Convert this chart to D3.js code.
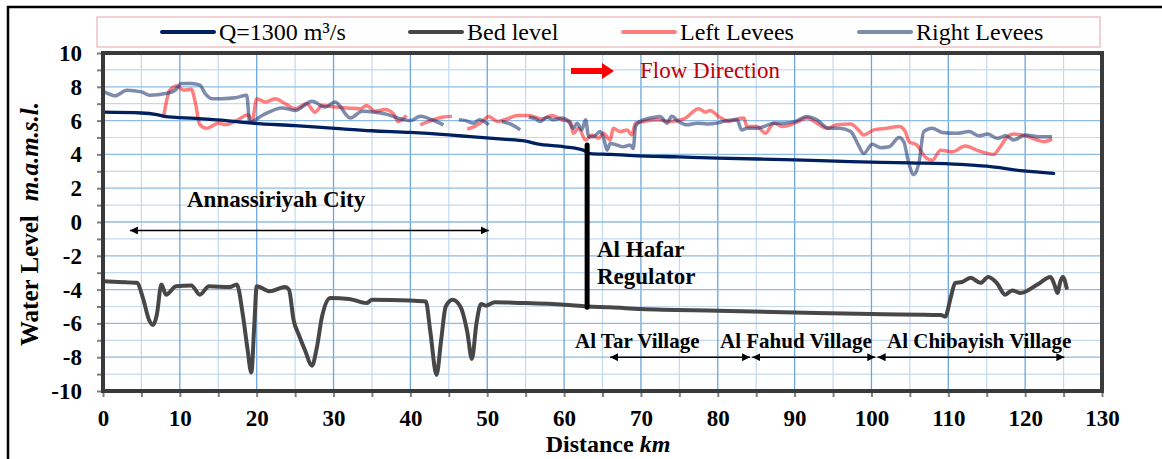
<!DOCTYPE html>
<html>
<head>
<meta charset="utf-8">
<script src="https://cdn.jsdelivr.net/npm/d3@7"></script>
<style>
  body { margin: 0; background: #fff; }
  svg { display: block; font-family: "Liberation Serif", "Times New Roman", serif; }
</style>
</head>
<body>
<div id="chart"></div>
<script>
// series names
const seriesNames = ['Q=1300 m³/s', 'Bed level', 'Left Levees', 'Right Levees']

// water surface for Q=1300
const waterKm = [0, 5, 7, 8, 12, 16, 19.4, 25, 30.2, 35, 40, 45, 47.8, 52, 55, 56.5, 60, 62.5, 63.4, 66, 69, 75, 80, 90, 97.3, 105, 111.6, 115, 119.8, 123.7]
const waterLevel = [6.5, 6.45, 6.35, 6.25, 6.13, 6.0, 5.85, 5.7, 5.54, 5.4, 5.3, 5.15, 5.05, 4.9, 4.78, 4.62, 4.45, 4.25, 4.05, 4.0, 3.93, 3.85, 3.78, 3.68, 3.57, 3.5, 3.41, 3.3, 3.02, 2.88]

// bed level
const bedKm = [0, 2, 4.4, 5.2, 6.0, 6.5, 7.0, 7.6, 8.2, 9.5, 11.5, 12.6, 13.8, 16.5, 17.4, 18.2, 18.8, 19.3, 19.7, 20.0, 21.7, 23.7, 24.2, 24.8, 25.5, 26.3, 27.2, 27.8, 28.5, 29.6, 32, 34.3, 35, 40, 42, 42.6, 43.4, 44.0, 44.6, 45.5, 46.5, 47.4, 48.0, 48.6, 49.2, 49.8, 51, 55, 60, 63, 66, 70, 80, 90, 100, 109, 109.6, 110.3, 110.9, 111.8, 112.9, 114.2, 115.2, 116.3, 117.4, 118.3, 119.4, 121.6, 123.3, 123.8, 124.2, 124.6, 124.9, 125.4]
const bedLevel = [-3.5, -3.55, -3.6, -4.5, -5.8, -6.1, -5.5, -3.7, -4.3, -3.8, -3.75, -4.3, -3.8, -3.85, -3.7, -5.5, -7.5, -8.9, -6.0, -3.8, -4.1, -3.85, -4.0, -5.8, -6.7, -7.6, -8.5, -7.5, -5.6, -4.5, -4.55, -4.8, -4.6, -4.65, -4.7, -6.5, -9.05, -7.0, -5.0, -4.6, -5.0, -6.5, -8.1, -6.0, -4.85, -4.95, -4.75, -4.8, -4.9, -5.0, -5.05, -5.15, -5.25, -5.35, -5.45, -5.5, -5.6, -4.5, -3.6, -3.55, -3.3, -3.6, -3.25, -3.6, -4.3, -4.05, -4.2, -3.7, -3.25, -3.7, -4.2, -3.5, -3.25, -3.9]

// left levees (null = gap in survey)
const leftKm = [7.85, 8.7, 9.6, 10.5, 11.5, 12, 12.6, 13.5, 15, 15.9, 17.2, 18.9, 19.4, 20, 21.1, 22.4, 23.7, 25, 26.5, 27.6, 28.5, 30.2, 31.9, 33.5, 34.3, 35.4, 36.7, 37.8, 38.4, 39.5, null,
  41.3, 42.4, 44.1, 45.4, null,
  47.4, 47.8, 49.1, 50.2, 51.3, 52.6, 53.9, 55.4, 57.1, 58.4, 59.7, 60.8, 61.2, 61.9, 62.8, 63.6, 64.5, 65.1, 66, 66.4, 67.3, 68.2, 68.8, 69.3, 70.4, 72.1, 73.8, 75.6, 77.5, 78.4, 79, 80.1, 81.4, 82.5, 83.4, 83.8, 85.1, 86.2, 87.3, 88.4, 89.5, 90.5, 91.6, 92.9, 94.2, 95.5, 97.3, 98.3, 99, 100.3, 102, 103.6, 104.4, 104.9, 105.9, 107, 107.9, 109, 110.5, 112.2, 114, 115.9, 116.6, 117.7, 118.5, 120, 121.6, 122.4, 123.5]
const leftLevel = [6.15, 7.8, 8.05, 7.8, 7.85, 7.1, 5.75, 5.55, 5.85, 5.75, 5.95, 6.35, 5.95, 7.3, 7.1, 7.3, 7.0, 6.7, 7.0, 6.5, 6.9, 6.8, 6.75, 6.7, 6.9, 6.55, 6.65, 6.4, 5.95, 6.3, null,
  5.75, 5.95, 6.2, 6.25, null,
  5.5, 5.55, 5.85, 6.25, 5.95, 6.1, 6.3, 6.3, 6.1, 6.3, 6.05, 5.95, 5.25, 5.55, 4.85, 5.15, 4.95, 5.25, 4.85, 5.55, 5.35, 5.45, 5.15, 5.85, 5.95, 6.05, 5.95, 6.1, 6.7, 6.5, 6.6, 6.25, 5.95, 6.1, 6.15, 5.65, 5.65, 5.25, 5.85, 5.65, 5.75, 5.95, 6.15, 5.85, 5.55, 5.75, 5.8, 5.45, 5.15, 5.45, 5.55, 5.65, 5.35, 4.75, 4.55, 3.85, 3.65, 4.25, 4.15, 4.5, 4.2, 4.0, 4.35, 5.05, 5.2, 5.1, 4.85, 4.75, 4.9]

// right levees
const rightKm = [0, 1.6, 3.1, 5, 6.1, 8.1, 9.4, 10.2, 11.5, 12.6, 13.3, 14.2, 15.5, 17.2, 18.7, 19.1, 20.7, 23.3, 25, 27.2, 28.9, 30.2, 32.2, 33.7, 35.4, 37.1, 38.4, 40, 41.3, 42.8, 44.3, null,
  46.3, 47.2, 48.2, 49, 49.6, 50.2, null,
  51.9, 53, 54.3, null,
  55.4, 56.3, 56.9, 57.8, 58.6, 59.7, 60.6, 61.2, 61.7, 62.3, 62.8, 63.2, 63.8, 64.7, 65.1, 65.6, 66, 66.9, 67.7, 68.6, 69, 69.3, 69.9, 71.2, 72.5, 73.4, 74, 74.9, 76, 77.3, 78.6, 79.9, 81.2, 82.5, 83.1, 83.8, 85.1, 86, 87.3, 88.6, 90.1, 91.6, 92.9, 94.4, 95.9, 97.3, 98.3, 99, 100.1, 101.2, 102.3, 103.6, 104.2, 104.9, 105.5, 106.2, 106.8, 107.9, 109.2, 111.1, 112.7, 114, 115.1, 116.4, 117.5, 118.5, 120, 121.6, 123.5]
const rightLevel = [7.75, 7.47, 7.8, 7.7, 7.5, 7.6, 7.8, 8.2, 8.2, 8.1, 7.6, 7.3, 7.3, 7.35, 7.5, 5.9, 6.3, 6.75, 6.6, 7.15, 6.8, 7.1, 6.15, 6.55, 6.5, 6.35, 6.15, 6.0, 6.25, 6.05, 5.75, null,
  6.05, 6.0, 5.85, 6.05, 5.95, 5.75, null,
  5.95, 5.8, 5.45, null,
  6.2, 6.1, 5.95, 6.2, 6.05, 6.15, 5.95, 5.55, 5.85, 5.45, 6.05, 5.05, 5.05, 5.35, 5.05, 4.25, 4.65, 4.55, 4.45, 4.55, 4.35, 5.65, 5.95, 6.15, 6.25, 5.85, 6.25, 5.95, 5.75, 5.85, 5.8, 5.85, 6.0, 6.05, 5.45, 5.55, 5.55, 5.65, 5.85, 5.85, 5.95, 6.25, 6.05, 5.55, 5.55, 5.35, 4.55, 4.05, 4.6, 4.4, 4.45, 5.0, 4.75, 3.4, 2.8, 3.55, 5.35, 5.55, 5.3, 5.25, 5.35, 5.1, 5.2, 4.95, 5.1, 4.85, 5.15, 5.05, 5.05]

// annotations
const reaches = [
  {name: 'Al Tar Village', from: 66, to: 84.2},
  {name: 'Al Fahud Village', from: 84.5, to: 100.5},
  {name: 'Al Chibayish Village', from: 100.8, to: 125.1}
]
const cityReach = {name: 'Annassiriyah City', from: 3.5, to: 50.2}
const regulator = {km: 63, top: 4.55, bottom: -5.05}

const xTicks = d3.range(0, 131, 5)
const yTicks = d3.range(-10, 11, 1)

const W = 1162, H = 459
const svg = d3.select('#chart').append('svg').attr('width', W).attr('height', H)
svg.append('rect').attr('width', W).attr('height', H).attr('fill', '#fff')

// outer frame
svg.append('path').attr('d', `M8,${H} V7 H${W}`).attr('fill', 'none').attr('stroke', '#000').attr('stroke-width', 2.5)

const x = d3.scaleLinear().domain([0, 130]).range([103, 1102])
const y = d3.scaleLinear().domain([-10, 10]).range([391, 53])

const pairs = (xs, ys) => xs.map((k, i) => [k, ys[i]])

// grid
const grid = svg.append('g')
grid.selectAll('line.vmin').data(xTicks.filter(d => d % 10 !== 0)).enter().append('line')
  .attr('x1', d => x(d)).attr('x2', d => x(d)).attr('y1', y(10)).attr('y2', y(-10))
  .attr('stroke', '#c3d9ef').attr('stroke-width', 1.2)
grid.selectAll('line.hmin').data(yTicks.filter(d => d % 2 !== 0)).enter().append('line')
  .attr('y1', d => y(d)).attr('y2', d => y(d)).attr('x1', x(0)).attr('x2', x(130))
  .attr('stroke', '#c3d9ef').attr('stroke-width', 1.2)
grid.selectAll('line.vmaj').data(xTicks.filter(d => d % 10 === 0)).enter().append('line')
  .attr('x1', d => x(d)).attr('x2', d => x(d)).attr('y1', y(10)).attr('y2', y(-10))
  .attr('stroke', '#6ea6da').attr('stroke-width', 1.3)
grid.selectAll('line.hmaj').data(yTicks.filter(d => d % 2 === 0)).enter().append('line')
  .attr('y1', d => y(d)).attr('y2', d => y(d)).attr('x1', x(0)).attr('x2', x(130))
  .attr('stroke', '#8dbbe4').attr('stroke-width', 1.3)

// axes
const yAxis = d3.axisLeft(y).tickValues(yTicks).tickSize(6).tickPadding(15)
  .tickFormat(d => d % 2 === 0 ? String(d) : '')
const xAxis = d3.axisBottom(x).tickValues(xTicks).tickSize(6)
  .tickFormat(d => d % 10 === 0 ? String(d) : '')

const gy = svg.append('g').attr('transform', `translate(${x(0)},0)`).call(yAxis)
const gx = svg.append('g').attr('transform', `translate(0,${y(-10)})`).call(xAxis)
for (const g of [gx, gy]) {
  g.select('.domain').remove()
  g.selectAll('.tick line').attr('stroke', '#7f7f7f').attr('stroke-width', 2)
  g.selectAll('.tick text').attr('fill', '#000').style('font-size', '23px').style('font-weight', 'bold')
    .style('font-family', '"Liberation Serif", serif')
}
gx.selectAll('.tick text').attr('y', 35).attr('dy', 0)
gy.selectAll('.tick text').attr('dy', '0.33em')

// series
const line = d3.line().defined(d => d[0] != null && d[1] != null)
  .x(d => x(d[0])).y(d => y(d[1])).curve(d3.curveMonotoneX)

const plot = svg.append('g')
plot.append('path').datum(pairs(leftKm, leftLevel)).attr('d', line)
  .attr('fill', 'none').attr('stroke', '#ff0000').attr('stroke-opacity', 0.5).attr('stroke-width', 3.5)
  .attr('stroke-linejoin', 'round')
plot.append('path').datum(pairs(rightKm, rightLevel)).attr('d', line)
  .attr('fill', 'none').attr('stroke', '#1f3771').attr('stroke-opacity', 0.58).attr('stroke-width', 3.5)
  .attr('stroke-linejoin', 'round')
plot.append('path').datum(pairs(waterKm, waterLevel)).attr('d', line)
  .attr('fill', 'none').attr('stroke', '#002060').attr('stroke-width', 3.3).attr('stroke-linecap', 'round')
plot.append('path').datum(pairs(bedKm, bedLevel)).attr('d', line)
  .attr('fill', 'none').attr('stroke', '#474747').attr('stroke-width', 4).attr('stroke-linecap', 'round')
  .attr('stroke-linejoin', 'round')

// plot border
svg.append('rect').attr('x', x(0)).attr('y', y(10)).attr('width', x(130) - x(0)).attr('height', y(-10) - y(10))
  .attr('fill', 'none').attr('stroke', '#3a3a3a').attr('stroke-width', 4)

// arrow markers
const defs = svg.append('defs')
defs.append('marker').attr('id', 'ah').attr('viewBox', '0 0 10 10').attr('refX', 10).attr('refY', 5)
  .attr('markerWidth', 8).attr('markerHeight', 8).attr('markerUnits', 'userSpaceOnUse').attr('orient', 'auto-start-reverse')
  .append('path').attr('d', 'M0,0 L10,5 L0,10 Z').attr('fill', '#000')

const ann = svg.append('g').style('font-weight', 'bold').attr('fill', '#000')

// city
ann.append('line').attr('x1', x(cityReach.from)).attr('x2', x(cityReach.to)).attr('y1', y(-0.5)).attr('y2', y(-0.5))
  .attr('stroke', '#000').attr('stroke-width', 1.5).attr('marker-start', 'url(#ah)').attr('marker-end', 'url(#ah)')
ann.append('text').attr('x', 187).attr('y', 207).style('font-size', '23px').text(cityReach.name)

// villages
ann.selectAll('line.reach').data(reaches).enter().append('line')
  .attr('x1', d => x(d.from)).attr('x2', d => x(d.to)).attr('y1', y(-8)).attr('y2', y(-8))
  .attr('stroke', '#000').attr('stroke-width', 1.5).attr('marker-start', 'url(#ah)').attr('marker-end', 'url(#ah)')
const labelX = [575, 720, 887]
ann.selectAll('text.reach').data(reaches).enter().append('text')
  .attr('x', (d, i) => labelX[i]).attr('y', 348).style('font-size', '21px').text(d => d.name)

// regulator
ann.append('line').attr('x1', x(regulator.km)).attr('x2', x(regulator.km)).attr('y1', y(regulator.top)).attr('y2', y(regulator.bottom))
  .attr('stroke', '#000').attr('stroke-width', 5).attr('stroke-linecap', 'round')
ann.append('text').attr('x', 597).attr('y', 257).style('font-size', '23px').text('Al Hafar')
ann.append('text').attr('x', 597).attr('y', 284).style('font-size', '23px').text('Regulator')

// flow direction
svg.append('rect').attr('x', 571).attr('y', 68).attr('width', 33).attr('height', 6).attr('fill', '#ff0000')
svg.append('path').attr('d', 'M602,63 L614,71 L602,79 Z').attr('fill', '#ff0000')
svg.append('text').attr('x', 640).attr('y', 78).attr('fill', '#c00000').style('font-size', '23px').text('Flow Direction')

// axis titles
const yt = svg.append('text').attr('transform', 'translate(38,224) rotate(-90)').attr('text-anchor', 'middle')
  .style('font-size', '25px').style('font-weight', 'bold')
yt.append('tspan').text('Water Level')
yt.append('tspan').attr('dx', 14).style('font-style', 'italic').text('m.a.m.s.l.')
const xt = svg.append('text').attr('x', 608).attr('y', 452).attr('text-anchor', 'middle')
  .style('font-size', '24px').style('font-weight', 'bold')
xt.append('tspan').text('Distance ')
xt.append('tspan').style('font-style', 'italic').text('km')

// legend
const lg = svg.append('g')
lg.append('rect').attr('x', 97).attr('y', 17).attr('width', 1003).attr('height', 30)
  .attr('fill', '#fff').attr('stroke', '#e3a3a3').attr('stroke-width', 1)
const legendX = [162, 410, 623, 859]
const legendStyle = [
  {stroke: '#002060', op: 1},
  {stroke: '#474747', op: 1},
  {stroke: '#ff0000', op: 0.5},
  {stroke: '#1f3771', op: 0.58}
]
const items = lg.selectAll('g.item').data(seriesNames).enter().append('g')
  .attr('transform', (d, i) => `translate(${legendX[i]},32)`)
items.append('line').attr('x1', 0).attr('x2', 52).attr('y1', 0).attr('y2', 0)
  .attr('stroke', (d, i) => legendStyle[i].stroke).attr('stroke-opacity', (d, i) => legendStyle[i].op)
  .attr('stroke-width', 4).attr('stroke-linecap', 'round')
items.append('text').attr('x', 57).attr('y', 8).style('font-size', '24px').text(d => d)
</script>
</body>
</html>
